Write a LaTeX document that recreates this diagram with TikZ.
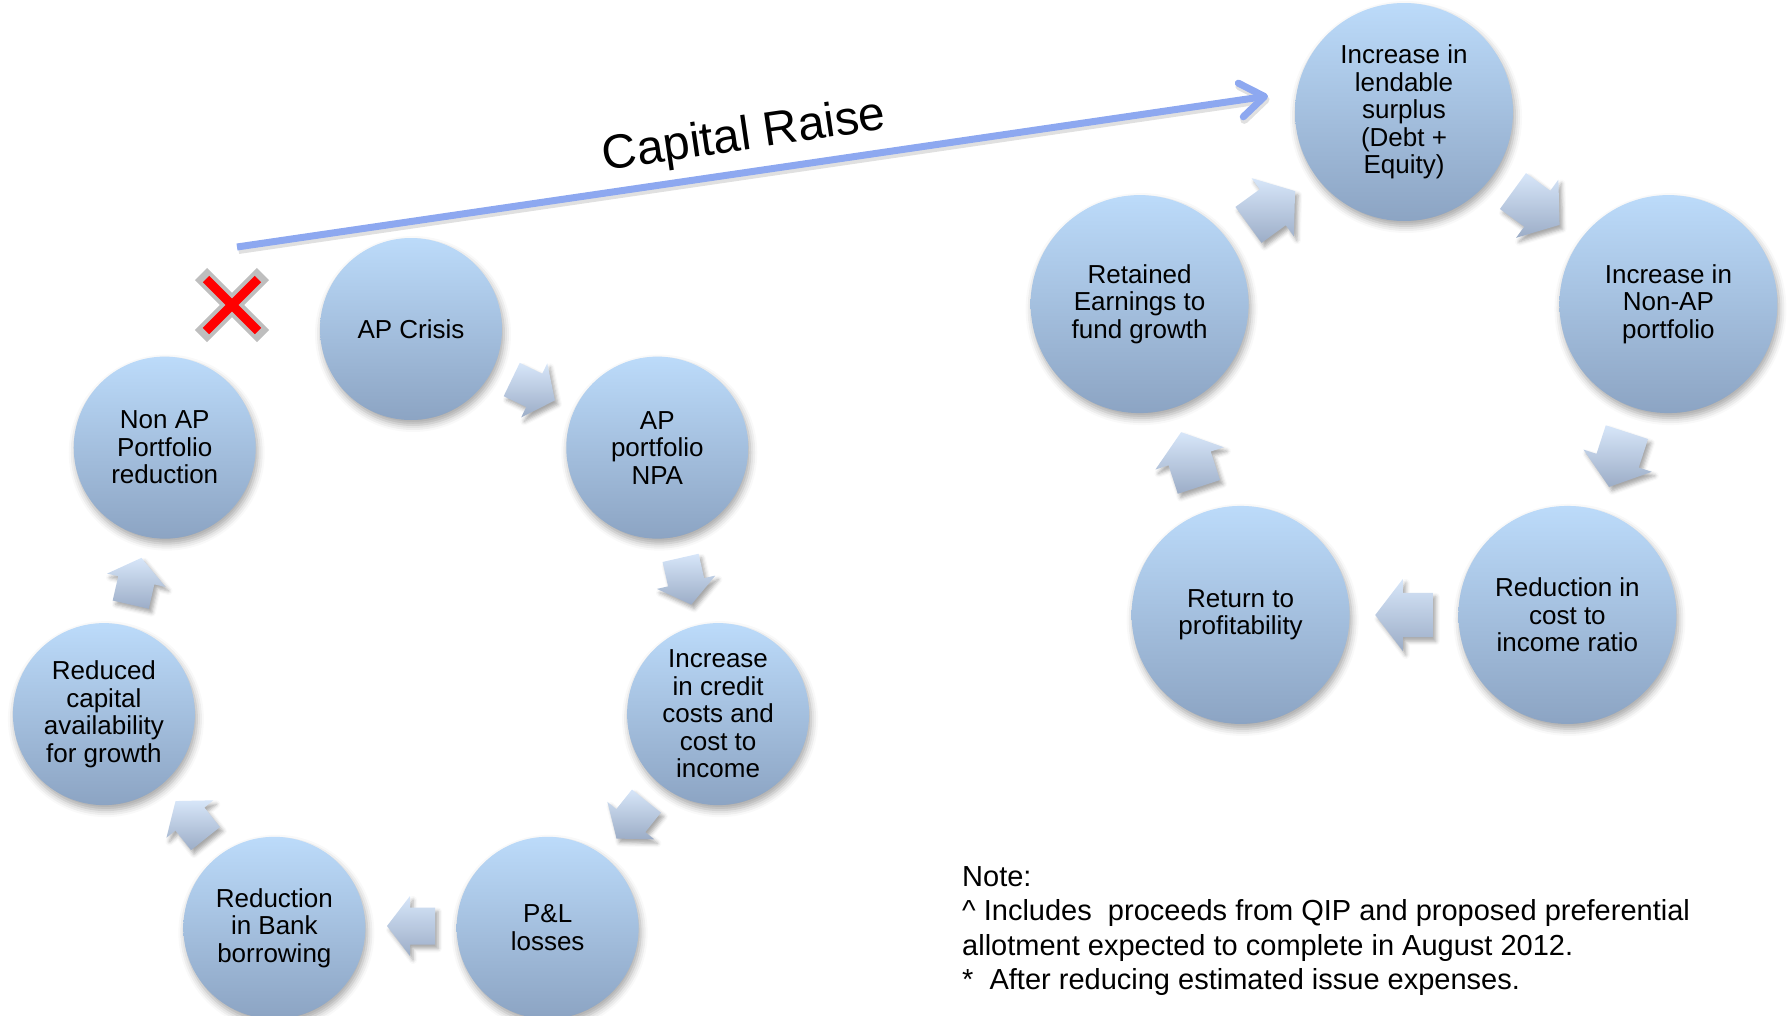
\documentclass[tikz,border=0pt]{standalone}
\usepackage{fontspec}
\setmainfont{Liberation Sans}
\usetikzlibrary{calc,arrows.meta,shadows.blur}

\definecolor{bubbleTop}{RGB}{188,219,250}
\definecolor{bubbleBot}{RGB}{140,164,195}
\definecolor{arrTop}{RGB}{215,230,249}
\definecolor{arrBot}{RGB}{156,173,199}
\definecolor{raiseBlue}{RGB}{141,168,240}
\definecolor{crossGrey}{RGB}{190,190,190}

\tikzset{
  bubble/.style={circle, inner sep=0pt, align=center,
    top color=bubbleTop, bottom color=bubbleBot,
    font=\fontsize{26}{27.5}\selectfont,
    blur shadow={shadow xshift=2pt, shadow yshift=-5pt,
      shadow blur radius=7pt, shadow opacity=35}},
  smallbubble/.style={bubble, minimum size=182pt},
  bigbubble/.style={bubble, minimum size=218pt},
  flowarrow/.style={top color=arrTop, bottom color=arrBot,
    blur shadow={shadow xshift=3pt, shadow yshift=-4pt,
      shadow blur radius=4pt, shadow opacity=35}},
  raiseline/.style={draw=raiseBlue, line width=7pt,
    -{Straight Barb[length=24pt, width=34pt, round]}},
  notetext/.style={anchor=north west, inner sep=0pt, align=left,
    font=\fontsize{29}{34.5}\selectfont},
}

% point of a block arrow: centre, direction, along, across
\newcommand\arrowpt[4]{($(#1)+({#2}:{#3})+({#2+90}:{#4})$)}
% block arrow centred on #1, pointing towards #2, scaled by #3
\newcommand\cyclearrow[3]{%
  \shade[flowarrow]
    \arrowpt{#1}{#2}{-24*#3}{-18.5*#3} --
    \arrowpt{#1}{#2}{1*#3}{-18.5*#3} --
    \arrowpt{#1}{#2}{1*#3}{-30*#3} --
    \arrowpt{#1}{#2}{24*#3}{0} --
    \arrowpt{#1}{#2}{1*#3}{30*#3} --
    \arrowpt{#1}{#2}{1*#3}{18.5*#3} --
    \arrowpt{#1}{#2}{-24*#3}{18.5*#3} -- cycle;}

\begin{document}
\begin{tikzpicture}[x=1pt, y=1pt]
\useasboundingbox (0,0) rectangle (1787,-1015);

% ---------- crisis cycle ----------
\coordinate (O1) at (411,-644);
\node[smallbubble] (crisis)  at ($(O1)+(90:315)$)      {AP Crisis};
\node[smallbubble] (npa)     at ($(O1)+(38.57:315)$)   {AP\\portfolio\\NPA};
\node[smallbubble] (credit)  at ($(O1)+(-12.86:315)$)  {Increase\\in credit\\costs and\\cost to\\income};
\node[smallbubble] (pnl)     at ($(O1)+(-64.29:315)$)  {P\&L\\losses};
\node[smallbubble] (bank)    at ($(O1)+(-115.71:315)$) {Reduction\\in Bank\\borrowing};
\node[smallbubble] (capital) at ($(O1)+(-167.14:315)$) {Reduced\\capital\\availability\\for growth};
\node[smallbubble] (nonap)   at ($(O1)+(141.43:315)$)  {Non AP\\Portfolio\\reduction};

% the link back to the crisis is broken, so no arrow there
\foreach \a [count=\i] in {64.29,12.86,-38.57,-90,-141.43,-192.86}{
  \coordinate (la\i) at ($(O1)+(\a:282)$);
  \pgfmathsetmacro\dir{\a-90}
  \cyclearrow{la\i}{\dir}{1}
}

% ---------- growth cycle ----------
\coordinate (O2) at (1404,-390);
\node[bigbubble] (surplus)  at ($(O2)+(90:278)$)   {Increase in\\lendable\\surplus\\(Debt +\\Equity)};
\node[bigbubble] (nonapup)  at ($(O2)+(18:278)$)   {Increase in\\Non-AP\\portfolio};
\node[bigbubble] (ratio)    at ($(O2)+(-54:278)$)  {Reduction in\\cost to\\income ratio};
\node[bigbubble] (profit)   at ($(O2)+(-126:278)$) {Return to\\profitability};
\node[bigbubble] (retained) at ($(O2)+(162:278)$)  {Retained\\Earnings to\\fund growth};

\foreach \a [count=\i] in {54,-18,-90,-162,-234}{
  \coordinate (ra\i) at ($(O2)+(\a:225)$);
  \pgfmathsetmacro\dir{\a-90}
  \cyclearrow{ra\i}{\dir}{1.2}
}

% ---------- broken link ----------
\coordinate (cross) at (232,-305);
\draw[crossGrey, line width=17pt] ($(cross)+(-31,31)$) -- ($(cross)+(31,-31)$);
\draw[crossGrey, line width=17pt] ($(cross)+(-31,-31)$) -- ($(cross)+(31,31)$);
\draw[red, line width=9pt] ($(cross)+(-26,26)$) -- ($(cross)+(26,-26)$);
\draw[red, line width=9pt] ($(cross)+(-26,-26)$) -- ($(cross)+(26,26)$);

% ---------- capital raise ----------
\coordinate (raiseStart) at (237,-247);
\coordinate (raiseEnd) at (1268,-96);
\draw[raiseline,
  preaction={draw=black, opacity=0.12, line width=8pt,
    transform canvas={xshift=1.5pt, yshift=-3pt}}]
  (raiseStart) -- node[pos=0.497, sloped, above=9pt, inner sep=0pt,
    font=\fontsize{48}{50}\selectfont] (raiselabel) {Capital Raise} (raiseEnd);

% ---------- footnote ----------
\node[notetext] (note) at (962,-866)
  {Note:\\
   \textasciicircum\ Includes\ \ proceeds from QIP and proposed preferential\\
   allotment expected to complete in August 2012.\\
   *\ \ After reducing estimated issue expenses.};
\end{tikzpicture}
\end{document}
